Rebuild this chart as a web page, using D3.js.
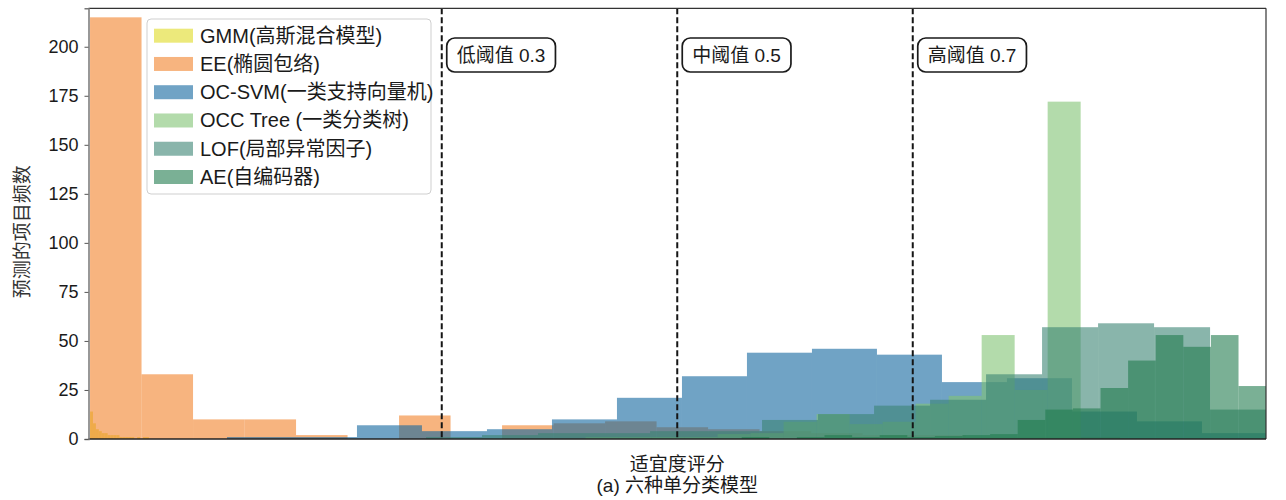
<!DOCTYPE html>
<html>
<head>
<meta charset="utf-8">
<script src="https://cdn.jsdelivr.net/npm/d3@7"></script>
<style>
  body { margin: 0; background: #fff; }
  text { font-family: "Liberation Sans", "Noto Sans CJK SC", sans-serif; }
</style>
</head>
<body>
<svg id="chart" width="1286" height="500"></svg>
<script>
// ---- data: six overlapping histograms of suitability scores ----
const seriesNames = ["GMM(高斯混合模型)", "EE(椭圆包络)", "OC-SVM(一类支持向量机)",
                     "OCC Tree (一类分类树)", "LOF(局部异常因子)", "AE(自编码器)"];
const seriesColors = ["#dfda23", "#f2822a", "#10669f", "#80c373", "#3a8473", "#217b4e"];

// each histogram: first bin edge, bin width, counts per bin
const gmmStart = 0.0013, gmmWidth = 0.0025;
const gmmCounts = [14, 8, 5, 4, 3, 3, 2, 2, 2, 2, 1, 1, 1, 1, 1, 0, 1, 0, 1, 1];

const eeStart = 0.0013, eeWidth = 0.04374;
const eeCounts = [215, 33, 10, 10, 2, 0, 12, 0, 7, 8, 9, 6, 5, 4, 3, 2, 2, 1, 1, 1];

const svmStart = 0.1176, svmWidth = 0.0552;
const svmCounts = [1, 1, 7, 4, 5, 10, 21, 32, 44, 46, 43, 29, 31, 14, 9, 3];

const occStart = 0.0017, occWidth = 0.02803;
const occCounts = [0, 0, 0, 0, 0, 0, 0, 0, 0, 0, 0, 0, 0, 0, 0,
                   1, 1, 1, 1, 2.5, 3, 8.8, 12.7, 7.6, 8.8, 18, 22, 53, 25, 172];

const lofStart = 0.0013, lofWidth = 0.04756;
const lofCounts = [0, 0, 0, 0, 0, 0, 1, 2, 3, 3, 4, 4, 9.7, 12.7, 17, 20, 33, 57, 59, 57, 15];

const aeStart = 0.5313, aeWidth = 0.02344;
const aeCounts = [0, 1, 0, 1, 2, 1, 2, 1, 1.5, 2, 2.5, 9.7, 15, 15.6, 26, 40, 53, 47, 53, 27];

const thresholds = [0.3, 0.5, 0.7];
const thresholdLabels = ["低阈值 0.3", "中阈值 0.5", "高阈值 0.7"];
const yTicks = [0, 25, 50, 75, 100, 125, 150, 175, 200];

const xTitle = "适宜度评分";
const yTitle = "预测的项目频数";
const caption = "(a) 六种单分类模型";

// ---- layout ----
const svg = d3.select("#chart");
const plot = { left: 88.5, right: 1266, top: 8.3, bottom: 439 };
const xs = d3.scaleLinear().domain([0, 1]).range([plot.left, plot.right]);
const ys = d3.scaleLinear().domain([0, 219.6]).range([plot.bottom, plot.top]);

svg.append("defs").append("clipPath").attr("id", "plotClip")
  .append("rect")
  .attr("x", plot.left).attr("y", plot.top)
  .attr("width", plot.right - plot.left).attr("height", plot.bottom - plot.top);

const series = [
  { start: gmmStart, width: gmmWidth, counts: gmmCounts },
  { start: eeStart,  width: eeWidth,  counts: eeCounts },
  { start: svmStart, width: svmWidth, counts: svmCounts },
  { start: occStart, width: occWidth, counts: occCounts },
  { start: lofStart, width: lofWidth, counts: lofCounts },
  { start: aeStart,  width: aeWidth,  counts: aeCounts }
];

const barsG = svg.append("g").attr("clip-path", "url(#plotClip)");
series.forEach((s, si) => {
  const bins = s.counts.map((c, i) => ({
    x0: s.start + i * s.width, x1: s.start + (i + 1) * s.width, c
  })).filter(b => b.c > 0);
  barsG.append("g").selectAll("rect").data(bins).join("rect")
    .attr("x", d => xs(d.x0))
    .attr("width", d => xs(d.x1) - xs(d.x0))
    .attr("y", d => ys(d.c))
    .attr("height", d => ys(0) - ys(d.c))
    .attr("fill", seriesColors[si])
    .attr("fill-opacity", 0.6);
});

// threshold lines
svg.append("g").selectAll("line").data(thresholds).join("line")
  .attr("x1", d => xs(d)).attr("x2", d => xs(d))
  .attr("y1", plot.top).attr("y2", plot.bottom)
  .attr("stroke", "#151515").attr("stroke-width", 2)
  .attr("stroke-dasharray", "6,3");

// threshold labels in rounded boxes
const labG = svg.append("g");
thresholds.forEach((t, i) => {
  const g = labG.append("g");
  const txt = g.append("text")
    .attr("x", xs(t) + 15).attr("y", 55)
    .attr("dominant-baseline", "central")
    .attr("font-size", 19).attr("fill", "#1a1a1a")
    .text(thresholdLabels[i]);
  const bb = txt.node().getBBox();
  g.insert("rect", "text")
    .attr("x", bb.x - 10).attr("y", 38)
    .attr("width", bb.width + 20).attr("height", 34)
    .attr("rx", 8)
    .attr("fill", "#fff").attr("stroke", "#1a1a1a").attr("stroke-width", 1.7);
});

// frame
svg.append("line").attr("x1", plot.left).attr("x2", plot.right)
  .attr("y1", plot.top).attr("y2", plot.top).attr("stroke", "#333").attr("stroke-width", 1.2);
svg.append("line").attr("x1", plot.right).attr("x2", plot.right)
  .attr("y1", plot.top).attr("y2", plot.bottom).attr("stroke", "#333").attr("stroke-width", 1.2);
svg.append("line").attr("x1", plot.left).attr("x2", plot.right)
  .attr("y1", plot.bottom).attr("y2", plot.bottom).attr("stroke", "#222").attr("stroke-width", 1.6);

// y axis
const yAxis = svg.append("g").attr("transform", `translate(${plot.left},0)`)
  .call(d3.axisLeft(ys).tickValues(yTicks).tickSize(4).tickPadding(6));
yAxis.select(".domain").attr("stroke", "#777").attr("stroke-width", 1.5);
yAxis.selectAll(".tick line").attr("stroke", "#555");
yAxis.selectAll(".tick text").attr("font-size", 18).attr("fill", "#1a1a1a")
  .attr("font-family", "Liberation Sans, sans-serif");

// legend
const leg = svg.append("g");
leg.append("rect").attr("x", 147).attr("y", 19).attr("width", 284).attr("height", 175)
  .attr("rx", 4).attr("fill", "#fff").attr("fill-opacity", 0.8)
  .attr("stroke", "#cfcfcf").attr("stroke-width", 1);
seriesNames.forEach((name, i) => {
  const cy = 35.7 + i * 28.26;
  leg.append("rect").attr("x", 154).attr("y", cy - 7).attr("width", 39).attr("height", 14)
    .attr("fill", seriesColors[i]).attr("fill-opacity", 0.6);
  leg.append("text").attr("x", 200).attr("y", cy).attr("dominant-baseline", "central")
    .attr("font-size", 20).attr("fill", "#1a1a1a").text(name);
});

// axis titles
svg.append("text").attr("x", xs(0.5)).attr("y", 464).attr("text-anchor", "middle")
  .attr("dominant-baseline", "central").attr("font-size", 19).attr("fill", "#1a1a1a").text(xTitle);
svg.append("text").attr("x", xs(0.5)).attr("y", 485).attr("text-anchor", "middle")
  .attr("dominant-baseline", "central").attr("font-size", 19).attr("fill", "#1a1a1a").text(caption);
svg.append("text").attr("transform", `translate(22,${(plot.top + plot.bottom) / 2 + 8}) rotate(-90)`)
  .attr("text-anchor", "middle").attr("dominant-baseline", "central")
  .attr("font-size", 19).attr("fill", "#333").text(yTitle);
</script>
</body>
</html>
